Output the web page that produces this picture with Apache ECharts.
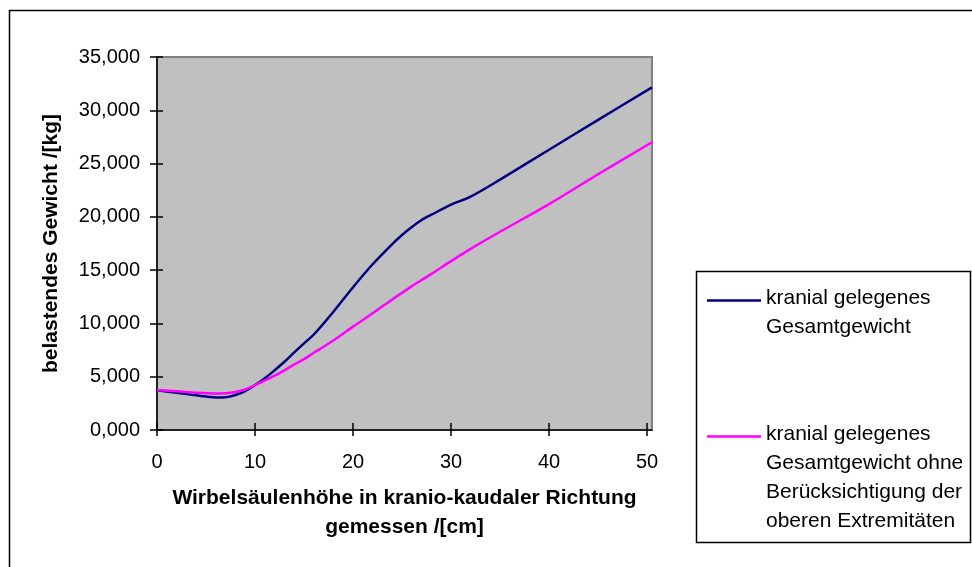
<!DOCTYPE html>
<html>
<head>
<meta charset="utf-8">
<script src="https://cdn.jsdelivr.net/npm/echarts@6/dist/echarts.min.js"></script>
<style>
  html, body { margin: 0; padding: 0; background: #fff; }
  #chart { width: 972px; height: 567px; }
</style>
</head>
<body>
<div id="chart"></div>
<script>
// Spine height (cm, cranio-caudal) and load carried above each level (kg)
const heightCm = [0, 2, 4, 6, 7, 8, 9, 10, 11, 12, 13, 14, 15, 16, 18, 20, 22, 24, 25, 26, 27, 28, 30, 32, 35, 40, 45, 50.5];
const totalWeight = [3.72, 3.50, 3.25, 3.06, 3.08, 3.28, 3.65, 4.22, 4.85, 5.60, 6.40, 7.28, 8.13, 8.96, 11.10, 13.40, 15.55, 17.45, 18.30, 19.05, 19.70, 20.20, 21.15, 21.90, 23.50, 26.30, 29.10, 32.15];
const weightNoLimbs = [3.72, 3.64, 3.50, 3.42, 3.44, 3.56, 3.80, 4.22, 4.65, 5.10, 5.60, 6.15, 6.65, 7.25, 8.40, 9.70, 10.95, 12.25, 12.87, 13.50, 14.07, 14.65, 15.85, 17.00, 18.60, 21.20, 24.00, 27.00];

const seriesNames = [
  'kranial gelegenes Gesamtgewicht',
  'kranial gelegenes Gesamtgewicht ohne Berücksichtigung der oberen Extremitäten'
];
const xTicks = [0, 10, 20, 30, 40, 50];
const yTicks = [0, 5, 10, 15, 20, 25, 30, 35];

const FONT = '"Liberation Sans", Arial, sans-serif';
const FS = 20;      // tick labels
const FS_T = 21;    // axis titles and legend

const chart = echarts.init(document.getElementById('chart'), null, { renderer: 'canvas' });

const gridRect = { left: 157, top: 57, right: 320, bottom: 137 };
const fmtDe = v => v.toFixed(3).replace('.', ',');

const option = {
  animation: false,
  backgroundColor: '#ffffff',
  grid: [
    Object.assign({ show: true, backgroundColor: '#C0C0C0', borderColor: '#808080', borderWidth: 2 }, gridRect),
    Object.assign({ show: false }, gridRect)
  ],
  xAxis: [
    {
      type: 'value', gridIndex: 0, min: 0, max: 50.5,
      splitLine: { show: false },
      axisLine: { show: true, onZero: false, lineStyle: { color: '#000', width: 1.5 } },
      axisTick: { show: true, inside: false, length: 6, customValues: xTicks, lineStyle: { color: '#000', width: 1.5 } },
      axisLabel: { customValues: xTicks, margin: 22, color: '#000', fontFamily: FONT, fontSize: FS },
      name: 'Wirbelsäulenhöhe in kranio-kaudaler Richtung\ngemessen /[cm]',
      nameLocation: 'middle', nameGap: 54,
      nameTextStyle: { color: '#000', fontFamily: FONT, fontSize: FS_T, fontWeight: 'bold', lineHeight: 29, align: 'center' }
    },
    {
      type: 'value', gridIndex: 1, min: 0, max: 50.5,
      splitLine: { show: false },
      axisLine: { show: false },
      axisTick: { show: true, inside: true, length: 7, customValues: xTicks, lineStyle: { color: '#000', width: 1.5 } },
      axisLabel: { show: false }
    }
  ],
  yAxis: [
    {
      type: 'value', gridIndex: 0, min: 0, max: 35, interval: 5,
      splitLine: { show: false },
      axisLine: { show: true, onZero: false, lineStyle: { color: '#000', width: 1.5 } },
      axisTick: { show: true, inside: false, length: 7, customValues: yTicks, lineStyle: { color: '#000', width: 1.5 } },
      axisLabel: { customValues: yTicks, margin: 17, color: '#000', fontFamily: FONT, fontSize: FS, formatter: fmtDe },
      name: 'belastendes Gewicht /[kg]',
      nameLocation: 'middle', nameGap: 95, nameRotate: 90,
      nameTextStyle: { color: '#000', fontFamily: FONT, fontSize: FS_T, fontWeight: 'bold' }
    },
    {
      type: 'value', gridIndex: 1, min: 0, max: 35, interval: 5,
      splitLine: { show: false },
      axisLine: { show: false },
      axisTick: { show: true, inside: true, length: 6, customValues: yTicks, lineStyle: { color: '#000', width: 1.5 } },
      axisLabel: { show: false }
    }
  ],
  legend: { show: false, data: seriesNames },
  series: [
    {
      name: seriesNames[0], type: 'line', xAxisIndex: 0, yAxisIndex: 0,
      data: heightCm.map((x, i) => [x, totalWeight[i]]),
      smooth: 0.3, showSymbol: false, symbol: 'none',
      lineStyle: { color: '#000080', width: 2.5 }, itemStyle: { color: '#000080' }, z: 3
    },
    {
      name: seriesNames[1], type: 'line', xAxisIndex: 0, yAxisIndex: 0,
      data: heightCm.map((x, i) => [x, weightNoLimbs[i]]),
      smooth: 0.3, showSymbol: false, symbol: 'none',
      lineStyle: { color: '#FF00FF', width: 2.5 }, itemStyle: { color: '#FF00FF' }, z: 4
    }
  ],
  graphic: [
    // outer chart frame
    { type: 'rect', silent: true, z: -1,
      shape: { x: 9.5, y: 10.5, width: 1000, height: 600 },
      style: { fill: 'none', stroke: '#000', lineWidth: 1.5 } },
    // legend frame
    { type: 'rect', silent: true,
      shape: { x: 696.5, y: 271.5, width: 274, height: 271 },
      style: { fill: '#fff', stroke: '#000', lineWidth: 1.5 } },
    { type: 'line', silent: true,
      shape: { x1: 707, y1: 300.5, x2: 761, y2: 300.5 },
      style: { stroke: '#000080', lineWidth: 2.5 } },
    { type: 'text', silent: true, x: 766, y: 284,
      style: { text: 'kranial gelegenes\nGesamtgewicht', font: FS_T + 'px ' + FONT, fill: '#000', lineHeight: 29 } },
    { type: 'line', silent: true,
      shape: { x1: 707, y1: 436.5, x2: 761, y2: 436.5 },
      style: { stroke: '#FF00FF', lineWidth: 2.5 } },
    { type: 'text', silent: true, x: 766, y: 420,
      style: { text: 'kranial gelegenes\nGesamtgewicht ohne\nBerücksichtigung der\noberen Extremitäten', font: FS_T + 'px ' + FONT, fill: '#000', lineHeight: 29 } }
  ]
};

chart.setOption(option);
</script>
</body>
</html>
